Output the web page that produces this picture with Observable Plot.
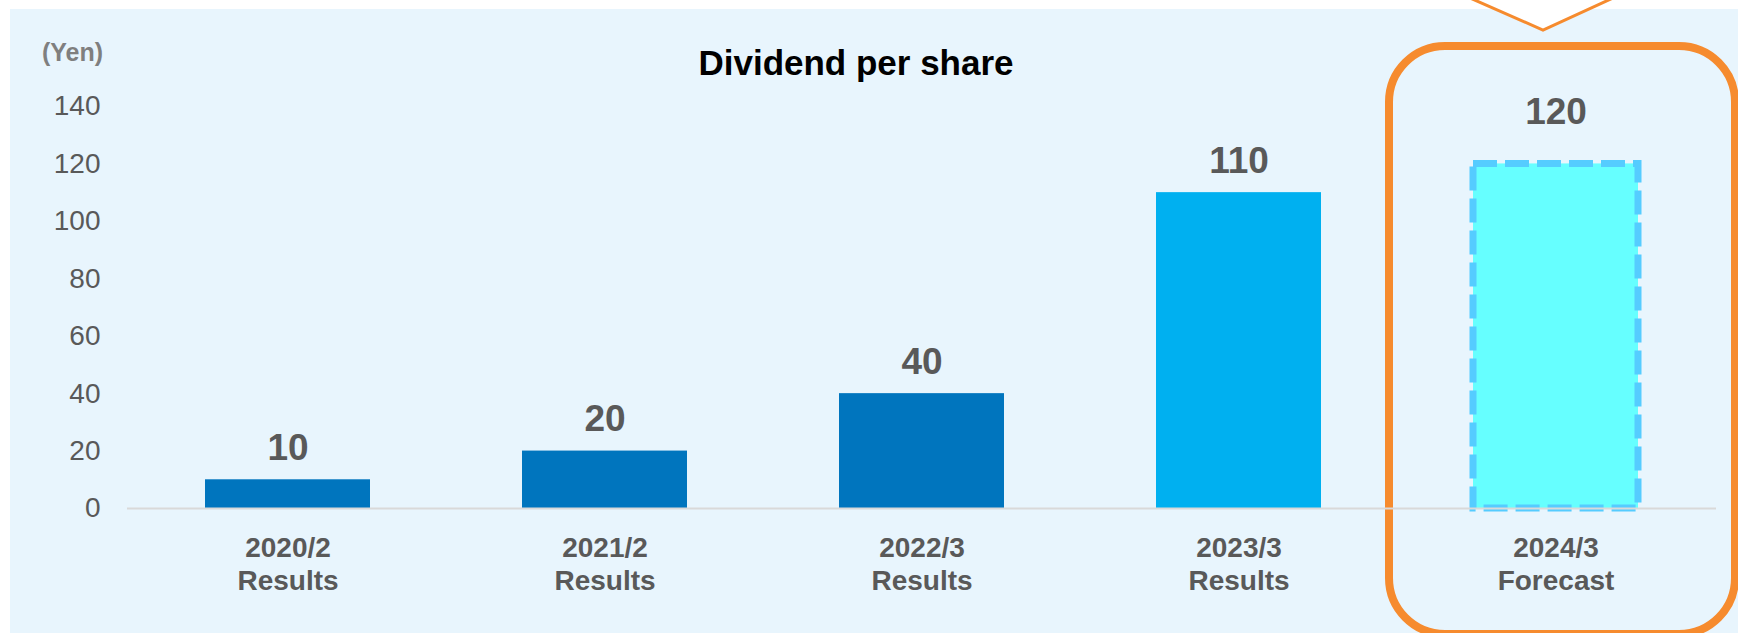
<!DOCTYPE html>
<html>
<head>
<meta charset="utf-8">
<script src="https://cdn.jsdelivr.net/npm/d3@7"></script>
<script src="https://cdn.jsdelivr.net/npm/@observablehq/plot@0.6"></script>
<style>
  html, body { margin: 0; padding: 0; background: #ffffff; }
  #page { position: relative; width: 1738px; height: 633px; overflow: hidden; background: #ffffff;
          font-family: Arial, "Liberation Sans", sans-serif; }
  #panel { position: absolute; left: 10px; top: 9px; right: 0; bottom: 0; background: #E8F5FD; }
  #box { position: absolute; left: 1385px; top: 42px; width: 354px; height: 596px; box-sizing: border-box;
         border: 8px solid #F68B2E; border-radius: 60px; }
  #title { position: absolute; left: 0; top: 45px; width: 1712px; text-align: center;
           font-weight: bold; font-size: 35px; line-height: 35px; color: #000000; }
  #unit { position: absolute; left: 42px; top: 40px; font-weight: bold; font-size: 25px; line-height: 25px; color: #7F7F7F; }
  #chart { position: absolute; left: 0; top: 0; }
  #callout { position: absolute; left: 0; top: 0; }
</style>
</head>
<body>
<div id="page">
  <div id="panel"></div>
  <div id="box"></div>
  <svg id="callout" width="1738" height="40"><polyline points="1470,-2 1543,30 1613,-2" fill="#ffffff" stroke="#F68B2E" stroke-width="3"/></svg>
  <div id="chart"></div>
  <div id="title">Dividend per share</div>
  <div id="unit">(Yen)</div>
</div>
<script>
const categories = ["2020/2", "2021/2", "2022/3", "2023/3", "2024/3"];
const periods = ["Results", "Results", "Results", "Results", "Forecast"];
const dividends = [10, 20, 40, 110, 120];
const yTicks = [0, 20, 40, 60, 80, 100, 120, 140];

const data = categories.map((c, i) => ({category: c, period: periods[i], value: dividends[i]}));
const periodOf = new Map(data.map(d => [d.category, d.period]));
const results = data.filter(d => d.period === "Results");
const forecast = data.filter(d => d.period === "Forecast");

const chart = Plot.plot({
  width: 1738,
  height: 633,
  marginLeft: 127,
  marginRight: 22,
  marginTop: 106,
  marginBottom: 125,
  style: {background: "transparent", color: "#595959", fontFamily: "Arial, 'Liberation Sans', sans-serif", overflow: "visible"},
  x: {domain: categories, paddingInner: 0.478, paddingOuter: 0.239, axis: null},
  y: {domain: [0, 140], axis: null},
  color: {domain: categories, range: ["#0075BE", "#0075BE", "#0075BE", "#00B0F0", "#66FFFF"]},
  marks: [
    Plot.barY(results, {x: "category", y: "value", fill: "category"}),
    Plot.barY(forecast, {x: "category", y: "value", fill: "category", stroke: "#55CCFF", strokeWidth: 7, strokeDasharray: "24,8"}),
    Plot.ruleY([0], {stroke: "#D9D9D9", strokeWidth: 2}),
    Plot.axisY({ticks: yTicks, tickSize: 0, tickPadding: 27, fontSize: 28, label: null}),
    Plot.axisX({tickSize: 0, tickPadding: 25, fontSize: 28, fontWeight: "bold", lineHeight: 1.18, label: null,
                tickFormat: c => c + "\n" + periodOf.get(c)}),
    Plot.text(results, {x: "category", y: "value", text: d => String(d.value), dy: -20, lineAnchor: "bottom",
                        fontSize: 37, fontWeight: "bold"}),
    Plot.text(forecast, {x: "category", y: "value", text: d => String(d.value), dy: -40, lineAnchor: "bottom",
                         fontSize: 37, fontWeight: "bold"})
  ]
});
document.getElementById("chart").appendChild(chart);
</script>
</body>
</html>
